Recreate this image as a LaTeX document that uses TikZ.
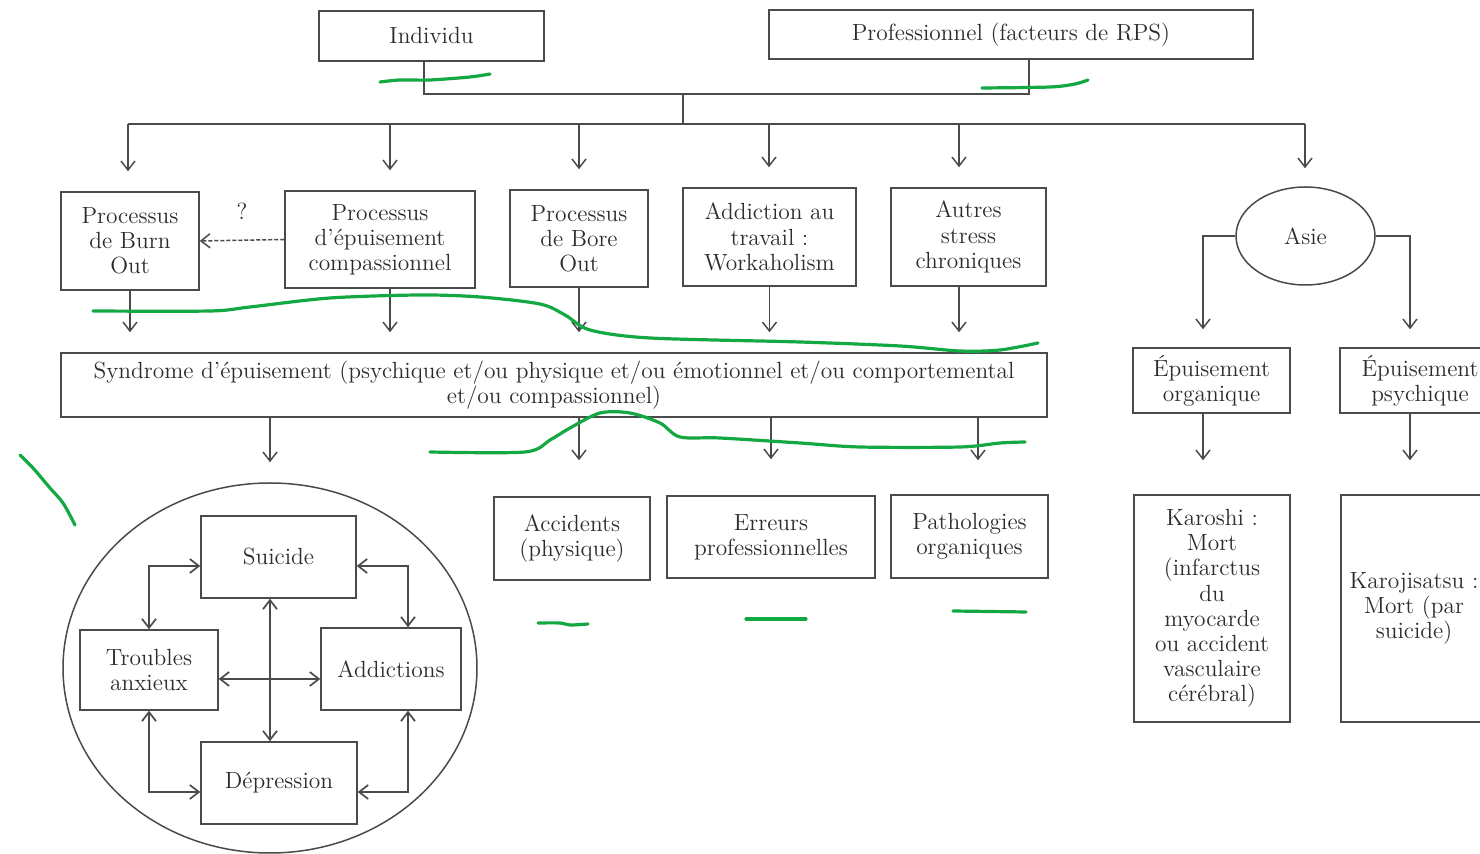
\documentclass[tikz,border=0pt]{standalone}
\usepackage{fontspec}
\usetikzlibrary{arrows.meta,shapes.geometric,calc}
\definecolor{lncol}{HTML}{4A4A4A}
\definecolor{txcol}{HTML}{2C2C2C}
\definecolor{grncol}{HTML}{14A843}
\begin{document}
\begin{tikzpicture}[x=0.5pt,y=-0.5pt,
  box/.style={draw=lncol, line width=0.75pt, rectangle, align=center, inner sep=1pt, text=txcol, font=\fontsize{11.7}{12.6}\selectfont},
  arr/.style={draw=lncol, line width=0.75pt, -{Straight Barb[length=4.5pt,width=7pt]}},
  darr/.style={draw=lncol, line width=0.85pt, {Straight Barb[length=4.5pt,width=7pt]}-{Straight Barb[length=4.5pt,width=7pt]}},
  plain/.style={draw=lncol, line width=0.75pt},
  grnline/.style={draw=grncol, line width=1.6pt, line cap=round, line join=round}
]
\useasboundingbox (0,0) rectangle (1480,854);
\clip (0,0) rectangle (1480,854);
\fill[white] (0,0) rectangle (1480,854);

% top row
\node[box, minimum width=112.5pt, minimum height=25pt] (indiv) at (431.5,36) {Individu};
\node[box, minimum width=242pt, minimum height=24.5pt] (prof) at (1011,34.5) {Professionnel (facteurs de RPS)};

% second row
\node[box, minimum width=69pt, minimum height=49pt] (burn) at (130,241) {Processus\\de Burn\\Out};
\node[box, minimum width=95pt, minimum height=48.5pt] (comp) at (380,239.5) {Processus\\d’épuisement\\compassionnel};
\node[box, minimum width=69pt, minimum height=48.5pt] (bore) at (579,238.5) {Processus\\de Bore\\Out};
\node[box, minimum width=86.5pt, minimum height=49pt] (addic) at (769.5,237) {Addiction au\\travail :\\Workaholism};
\node[box, minimum width=77.5pt, minimum height=49pt] (autres) at (968.5,237) {Autres\\stress\\chroniques};
\node[box, ellipse, minimum width=69.5pt, minimum height=49pt, inner sep=0pt] (asie) at (1305.5,236) {Asie};
\node[text=txcol, font=\fontsize{11.7}{12.6}\selectfont] (q) at (242,211) {?};

% syndrome
\node[box, minimum width=493pt, minimum height=32pt] (synd) at (554,385) {Syndrome d’épuisement (psychique et/ou physique et/ou émotionnel et/ou comportemental\\et/ou compassionnel)};

% Asia branch
\node[box, minimum width=78.5pt, minimum height=32.5pt] (epo) at (1211.5,380.5) {Épuisement\\organique};
\node[box, minimum width=80pt, minimum height=32.5pt] (eps) at (1420,380.5) {Épuisement\\psychique};
\node[box, minimum width=78pt, minimum height=113.5pt] (karo) at (1212,608.5) {Karoshi :\\Mort\\(infarctus\\du\\myocarde\\ou accident\\vasculaire\\cérébral)};
\node[box, minimum width=73pt, minimum height=113.5pt] (karoj) at (1414,608.5) {Karojisatsu :\\Mort (par\\suicide)};

% outcomes
\node[box, minimum width=78pt, minimum height=41.5pt] (acc) at (572,538.5) {Accidents\\(physique)};
\node[box, minimum width=104pt, minimum height=41pt] (err) at (771,537) {Erreurs\\professionnelles};
\node[box, minimum width=78.5pt, minimum height=41.5pt] (path) at (969.5,536.5) {Pathologies\\organiques};

% circle group
\node[draw=lncol, line width=0.75pt, ellipse, minimum width=207pt, minimum height=185pt, inner sep=0pt] (circ) at (270,668) {};
\node[box, minimum width=77.5pt, minimum height=41pt] (sui) at (278.5,557) {Suicide};
\node[box, minimum width=69pt, minimum height=40pt] (trb) at (149,670) {Troubles\\anxieux};
\node[box, minimum width=70pt, minimum height=41pt] (addn) at (391,669) {Addictions};
\node[box, minimum width=78pt, minimum height=41pt] (dep) at (279,783) {Dépression};

% top connectors
\coordinate (j1) at (683,94);
\coordinate (bar) at (683,124);
\coordinate (b1) at (128,124);
\coordinate (b2) at (390,124);
\coordinate (b3) at (579,124);
\coordinate (b4) at (769,124);
\coordinate (b5) at (959,124);
\coordinate (b6) at (1305,124);
\draw[plain] ([xshift=-3.75pt]indiv.south) |- (j1);
\draw[plain] ([xshift=9pt]prof.south) |- (j1);
\draw[plain] (j1) -- (bar);
\draw[plain] (b1) -- (b6);
\draw[arr, shorten >=10pt] (b1) -- (b1 |- burn.north);
\draw[arr, shorten >=10pt] (b2) -- (b2 |- comp.north);
\draw[arr, shorten >=10pt] (b3) -- (b3 |- bore.north);
\draw[arr, shorten >=10pt] (b4) -- (b4 |- addic.north);
\draw[arr, shorten >=10pt] (b5) -- (b5 |- autres.north);
\draw[arr, shorten >=9pt] (b6) -- (b6 |- asie.north);

% dashed
\draw[arr, dashed, dash pattern=on 2pt off 1pt] (comp.west) -- (burn.east);

% row 2 -> syndrome
\draw[arr, shorten >=10pt] (burn.south) -- (burn.south |- synd.north);
\draw[arr, shorten >=10pt] ([xshift=5pt]comp.south) -- ([xshift=5pt]comp.south |- synd.north);
\draw[arr, shorten >=10pt] (bore.south) -- (bore.south |- synd.north);
\draw[arr, shorten >=10pt] (addic.south) -- (addic.south |- synd.north);
\draw[arr, shorten >=10pt] ([xshift=-4.75pt]autres.south) -- ([xshift=-4.75pt]autres.south |- synd.north);

% Asie branches
\draw[arr, shorten >=9pt] (asie.west) -| ([xshift=-4.25pt]epo.north);
\draw[arr, shorten >=9pt] (asie.east) -| ([xshift=-5pt]eps.north);
\draw[arr, shorten >=17pt] ([xshift=-4.25pt]epo.south) -- ([xshift=-4.25pt]epo.south |- karo.north);
\draw[arr, shorten >=17pt] ([xshift=-5pt]eps.south) -- ([xshift=-5pt]eps.south |- karoj.north);

% syndrome -> outcomes
\coordinate (a1) at ([xshift=3.5pt]acc.north);
\coordinate (a3) at ([xshift=4.25pt]path.north);
\draw[arr, shorten >=10pt] (synd.south -| circ.north) -- (circ.north);
\draw[arr, shorten >=18pt] (synd.south -| a1) -- (a1);
\draw[arr, shorten >=18pt] (synd.south -| err.north) -- (err.north);
\draw[arr, shorten >=17pt] (synd.south -| a3) -- (a3);

% inner arrows
\draw[darr] (trb.north) |- ([yshift=-4.5pt]sui.west);
\draw[darr] ([yshift=-4.5pt]sui.east) -| ([xshift=8.5pt]addn.north);
\draw[darr] (trb.south) |- ([yshift=-4.5pt]dep.west);
\draw[darr] ([xshift=8.5pt]addn.south) |- ([yshift=-4.5pt]dep.east);
\draw[darr] (sui.south -| circ.center) -- (dep.north -| circ.center);
\draw[darr] ([yshift=-4.5pt]trb.east) -- ([yshift=-4.5pt]trb.east -| addn.west);

% green hand annotations
\draw[grnline] plot[smooth] coordinates {(380,82) (400,80) (430,80) (470,77) (490,74)};
\draw[grnline] plot[smooth] coordinates {(982,88) (1050,87) (1075,84) (1088,80)};
\draw[grnline] plot[smooth] coordinates {(93,311) (210,311) (250,307) (330,298) (420,295) (480,297) (540,304) (565,315) (590,330) (650,338) (800,342) (900,346) (960,351) (1000,350) (1038,343)};
\draw[grnline] plot[smooth] coordinates {(430,452) (525,452) (550,440) (570,428) (600,413) (630,413) (660,423) (680,437) (720,438) (800,443) (860,447) (960,447) (1000,443) (1025,442)};
\draw[grnline] plot[smooth] coordinates {(20,455) (33,468) (50,488) (63,503) (75,525)};
\draw[grnline] plot[smooth] coordinates {(538,623) (560,623) (570,625) (588,624)};
\draw[grnline] (746,619) -- (806,619);
\draw[grnline] (953,611) -- (1026,612);
\end{tikzpicture}
\end{document}
